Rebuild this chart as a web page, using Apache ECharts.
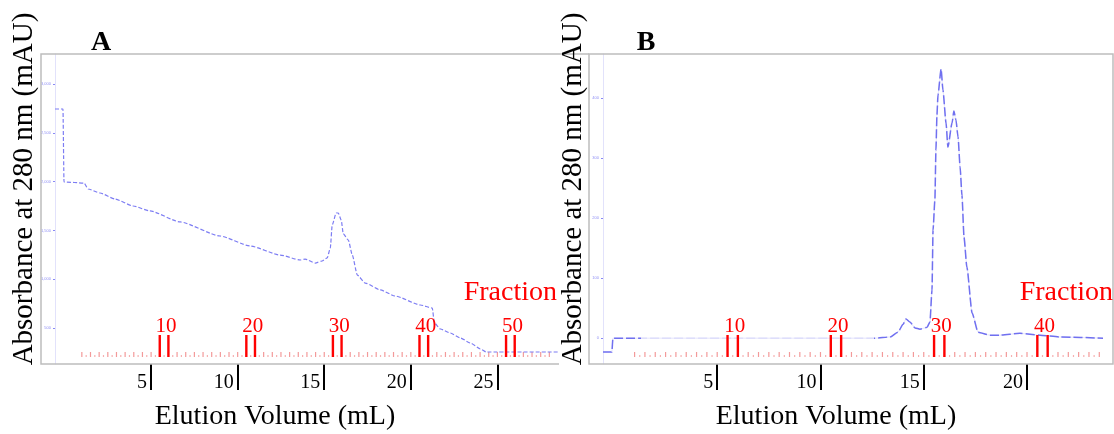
<!DOCTYPE html>
<html lang="en">
<head>
<meta charset="UTF-8">
<script src="https://cdn.jsdelivr.net/npm/echarts@6/dist/echarts.min.js"></script>
<title>Elution profiles A / B</title>
<style>
html, body { margin: 0; padding: 0; background: #fff; }
#chart { width: 1114px; height: 434px; }
</style>
</head>
<body>
<div id="chart"></div>
<script>
// panel A trace: elution volume (mL) / absorbance (mAU)
var volA = [-0.55, -0.09, -0.03, 1.13, 1.36, 2.05, 2.92, 3.96, 4.94, 6.68, 8.99, 10.72, 12.46, 13.61, 13.90,
  14.48, 14.88, 15.17, 15.35, 15.46, 15.69, 15.81, 15.98, 16.10, 16.39, 16.62, 16.91, 17.37, 18.24, 19.10,
  20.55, 21.24, 21.36, 21.71, 22.28, 22.86, 23.44, 24.02, 24.36, 28.50];
var absA = [2745, 2745, 1997, 1986, 1925, 1884, 1822, 1751, 1700, 1587, 1443, 1341, 1248, 1197, 1207,
  1166, 1187, 1218, 1320, 1556, 1679, 1679, 1607, 1464, 1402, 1248, 1043, 961, 890, 828,
  736, 705, 551, 490, 449, 398, 346, 285, 254, 254];

// panel B trace
var volB = [-0.53, -0.10, -0.05, 12.64, 13.37, 13.75, 14.00, 14.14, 14.33, 14.58, 14.82, 15.16, 15.30,
  15.40, 15.45, 15.54, 15.59, 15.64, 15.69, 15.84, 15.93, 16.08, 16.17, 16.37, 16.46, 16.56, 16.66,
  16.76, 16.85, 16.95, 17.09, 17.34, 17.63, 18.21, 18.69, 19.66, 20.63, 21.60, 23.68];
var absB = [-23, -23, 0, 0, 2, 10, 23, 32, 27, 17, 15, 18, 27,
  80, 180, 230, 313, 372, 405, 448, 413, 358, 318, 358, 378, 363, 335,
  285, 238, 168, 118, 42, 10, 5, 5, 8, 5, 2, 0];
// stretch of the B baseline that the instrument drew very faintly
var faintB = [1.3, 12.6];

var xTicksA = [5, 10, 15, 20, 25];
var xTicksB = [5, 10, 15, 20];
var yTicksA = [500, 1000, 1500, 2000, 2500, 3000];
var yTicksB = [0, 100, 200, 300, 400];

var fracLabelsA = [10, 20, 30, 40, 50];
var fracLabelsB = [10, 20, 30, 40];
var fracCountA = 55;
var fracCountB = 46;
var fracStart = 0.5;   // fraction n spans fracStart + n*fracSize .. + fracSize
var fracSize = 0.5;

var serif = '"Liberation Serif", "Times New Roman", serif';

function pairs(xs, ys) {
  return xs.map(function (x, i) { return [x, ys[i]]; });
}
function fracList(n) {
  var out = [];
  for (var i = 1; i <= n; i++) out.push([i]);
  return out;
}

// little red collector ticks along the bottom
function renderRow(params, api) {
  var n = api.value(0);
  var cs = params.coordSys;
  var base = cs.y + cs.height - 7;
  var x0 = api.coord([fracStart + n * fracSize, 0])[0];
  var x1 = api.coord([fracStart + (n + 1) * fracSize, 0])[0];
  var kids = [
    { type: 'rect', shape: { x: x0 - 0.6, y: base - 5, width: 1.2, height: 5 }, style: { fill: '#f39a9a' } }
  ];
  if (x1 < cs.x + cs.width) {
    kids.push({ type: 'rect', shape: { x: (x0 + x1) / 2 - 0.6, y: base - 2, width: 1.2, height: 2 }, style: { fill: '#f6b0b0' } });
  }
  return { type: 'group', children: kids };
}

// labelled fractions: double red bar + number
function renderMark(params, api) {
  var n = api.value(0);
  var cs = params.coordSys;
  var bottom = cs.y + cs.height;
  var x0 = api.coord([fracStart + n * fracSize, 0])[0];
  var x1 = api.coord([fracStart + (n + 1) * fracSize, 0])[0];
  return {
    type: 'group',
    children: [
      { type: 'rect', shape: { x: x0 - 1.2, y: bottom - 29, width: 2.4, height: 22 }, style: { fill: '#ff0000' } },
      { type: 'rect', shape: { x: x1 - 1.2, y: bottom - 29, width: 2.4, height: 22 }, style: { fill: '#ff0000' } },
      { type: 'text', style: { text: String(n), x: (x0 + x1) / 2 + 2, y: bottom - 38, align: 'center', verticalAlign: 'middle',
        font: '21px ' + serif, fill: '#ff0000' } }
    ]
  };
}

function xAxisOpt(grid, min, max, ticks) {
  return {
    gridIndex: grid, type: 'value', min: min, max: max,
    axisLine: { show: false, onZero: false },
    splitLine: { show: false },
    axisTick: { show: true, customValues: ticks, length: 26, lineStyle: { color: '#000', width: 2 } },
    axisLabel: { customValues: ticks, align: 'right', padding: [0, 4, 0, 0], margin: 9,
      fontFamily: serif, fontSize: 20, color: '#000' }
  };
}
function yAxisOpt(grid, min, max, ticks) {
  return {
    gridIndex: grid, type: 'value', min: min, max: max,
    axisLine: { show: true, onZero: false, lineStyle: { color: '#e2e2fb', width: 1 } },
    splitLine: { show: false },
    axisTick: { show: true, customValues: ticks, length: 2, lineStyle: { color: '#8a8af5' } },
    axisLabel: { customValues: ticks, fontSize: 4, color: '#8f8ff5', margin: 4 }
  };
}

var chart = echarts.init(document.getElementById('chart'));

chart.setOption({
  animation: false,
  backgroundColor: '#fff',
  grid: [
    { left: 55, right: 556, top: 54, bottom: 70 },
    { left: 603, right: 5, top: 54, bottom: 70 }
  ],
  xAxis: [
    xAxisOpt(0, -0.55, 28.5, xTicksA),
    xAxisOpt(1, -0.53, 23.97, xTicksB)
  ],
  yAxis: [
    yAxisOpt(0, 131, 3309, yTicksA),
    yAxisOpt(1, -43, 473, yTicksB)
  ],
  visualMap: {
    show: false, type: 'piecewise', seriesIndex: 2, dimension: 0,
    pieces: [{ gt: faintB[0], lt: faintB[1], color: '#dedefb' }],
    outOfRange: { color: '#7070f0' }
  },
  series: [
    {
      type: 'line', xAxisIndex: 0, yAxisIndex: 0, data: pairs(volA, absA),
      showSymbol: false, smooth: 0.2, smoothMonotone: 'x',
      lineStyle: { color: '#7d7df3', width: 1.2, type: [4, 2] }, z: 5
    },
    {
      type: 'line', xAxisIndex: 1, yAxisIndex: 1, data: pairs(volB, absB),
      showSymbol: false, smooth: 0.2, smoothMonotone: 'x',
      lineStyle: { color: '#e4e4fc', width: 1 }, z: 4
    },
    {
      type: 'line', xAxisIndex: 1, yAxisIndex: 1, data: pairs(volB, absB),
      showSymbol: false, smooth: 0.2, smoothMonotone: 'x',
      lineStyle: { width: 1.5, type: [9, 3] }, z: 5
    },
    {
      type: 'custom', xAxisIndex: 0, yAxisIndex: 0, data: fracList(fracCountA),
      renderItem: renderRow, clip: false, silent: true, z: 3
    },
    {
      type: 'custom', xAxisIndex: 1, yAxisIndex: 1, data: fracList(fracCountB),
      renderItem: renderRow, clip: false, silent: true, z: 3
    },
    {
      type: 'custom', xAxisIndex: 0, yAxisIndex: 0, data: fracLabelsA.map(function (n) { return [n]; }),
      renderItem: renderMark, clip: false, silent: true, z: 6
    },
    {
      type: 'custom', xAxisIndex: 1, yAxisIndex: 1, data: fracLabelsB.map(function (n) { return [n]; }),
      renderItem: renderMark, clip: false, silent: true, z: 6
    }
  ],
  graphic: [
    { type: 'polyline', shape: { points: [[559, 364], [41, 364], [41, 54], [589, 54]] },
      style: { stroke: '#bdbdbd', lineWidth: 1.5, fill: null }, z: 1 },
    { type: 'rect', shape: { x: 589, y: 54, width: 524, height: 310 },
      style: { stroke: '#bdbdbd', lineWidth: 1.5, fill: null }, z: 1 },
    { type: 'text', x: 101, y: 43, style: { text: 'A', font: 'bold 28px ' + serif, fill: '#000', align: 'center', verticalAlign: 'middle' }, z: 10 },
    { type: 'text', x: 646, y: 43, style: { text: 'B', font: 'bold 28px ' + serif, fill: '#000', align: 'center', verticalAlign: 'middle' }, z: 10 },
    { type: 'text', x: 24, y: 189, rotation: Math.PI / 2,
      style: { text: 'Absorbance at 280 nm (mAU)', font: '29px ' + serif, fill: '#000', align: 'center', verticalAlign: 'middle' }, z: 10 },
    { type: 'text', x: 573, y: 189, rotation: Math.PI / 2,
      style: { text: 'Absorbance at 280 nm (mAU)', font: '29px ' + serif, fill: '#000', align: 'center', verticalAlign: 'middle' }, z: 10 },
    { type: 'text', x: 275, y: 417, style: { text: 'Elution Volume (mL)', font: '28px ' + serif, fill: '#000', align: 'center', verticalAlign: 'middle' }, z: 10 },
    { type: 'text', x: 836, y: 417, style: { text: 'Elution Volume (mL)', font: '28px ' + serif, fill: '#000', align: 'center', verticalAlign: 'middle' }, z: 10 },
    { type: 'text', x: 557, y: 293, style: { text: 'Fraction', font: '28px ' + serif, fill: '#ff0000', align: 'right', verticalAlign: 'middle' }, z: 10 },
    { type: 'text', x: 1113, y: 293, style: { text: 'Fraction', font: '28px ' + serif, fill: '#ff0000', align: 'right', verticalAlign: 'middle' }, z: 10 }
  ]
});
</script>
</body>
</html>
